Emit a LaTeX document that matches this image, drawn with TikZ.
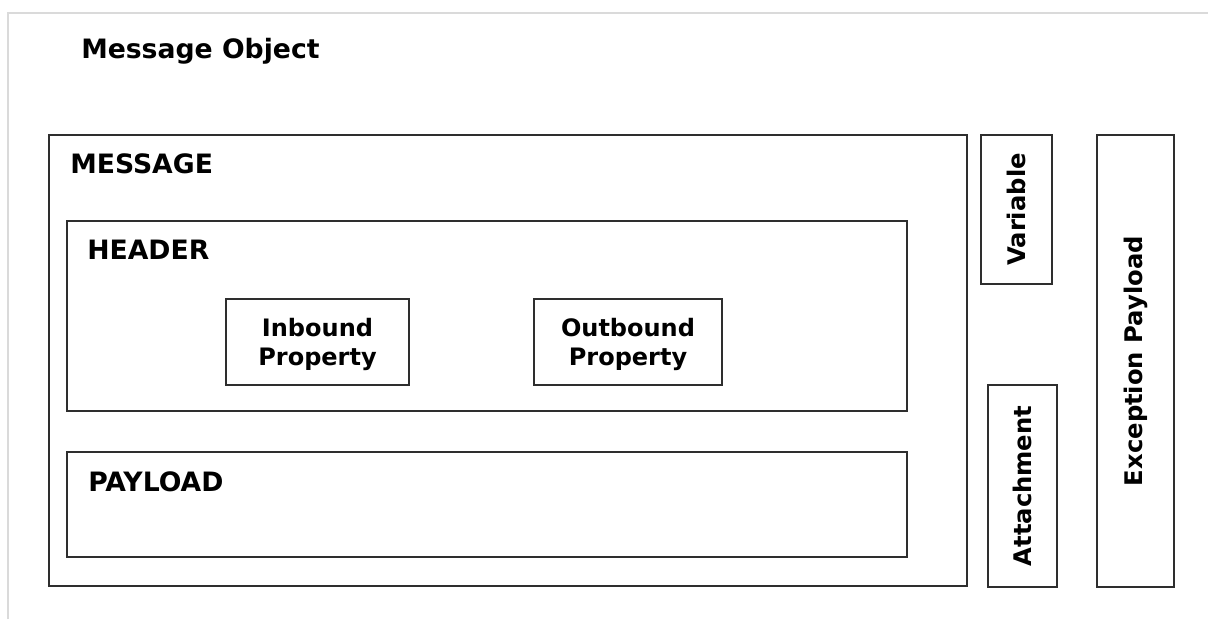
\documentclass[tikz,border=0pt]{standalone}
\usepackage{fontspec}
\setmainfont{DejaVu Sans}
\usetikzlibrary{fit}
\definecolor{edge}{HTML}{2E2E2E}
\definecolor{frame}{HTML}{DADADA}
\begin{document}
\begin{tikzpicture}[x=0.75pt, y=-0.75pt,
  box/.style={draw=edge, line width=1.4pt, inner sep=0pt, rectangle},
  heading/.style={inner sep=0pt, anchor=base west, font=\fontsize{20}{24}\selectfont\bfseries},
  itemtext/.style={inner sep=0pt, align=center, font=\fontsize{18}{21.5}\selectfont\bfseries},
  sidetext/.style={inner sep=0pt, rotate=90, font=\fontsize{18.2}{21}\selectfont\bfseries}]
  \useasboundingbox (0,0) rectangle (1208,619);
  % light outer frame, open on the right and bottom
  \coordinate (frameTL) at (8,13);
  \coordinate (frameTR) at (1208,13);
  \coordinate (frameBL) at (8,619);
  \draw[frame, line width=1.5pt] (frameBL) -- (frameTL) -- (frameTR);

  \node[heading] (title) at (81,58) {Message Object};

  % message container
  \node[box, fit={(49,135) (967,586)}] (message) {};
  \node[heading] (messagelbl) at (70,173) {MESSAGE};

  % header with its properties
  \node[box, fit={(67,221) (907,411)}] (header) {};
  \node[heading] (headerlbl) at (87,259) {HEADER};
  \node[box, fit={(226,299) (409,385)}] (inbound) {};
  \node[itemtext] (inboundlbl) at ([yshift=-2pt]inbound.center) {Inbound\\Property};
  \node[box, fit={(534,299) (722,385)}] (outbound) {};
  \node[itemtext] (outboundlbl) at ([yshift=-2pt]outbound.center) {Outbound\\Property};

  % payload
  \node[box, fit={(67,452) (907,557)}] (payload) {};
  \node[heading] (payloadlbl) at (88,491) {PAYLOAD};

  % side parts
  \node[box, fit={(981,135) (1052,284)}] (variable) {};
  \node[sidetext] (variablelbl) at (variable.center) {Variable};
  \node[box, fit={(988,385) (1057,587)}] (attachment) {};
  \node[sidetext] (attachmentlbl) at (attachment.center) {Attachment};
  \node[box, fit={(1097,135) (1174,587)}] (exception) {};
  \node[sidetext] (exceptionlbl) at (exception.center) {Exception Payload};
\end{tikzpicture}
\end{document}
